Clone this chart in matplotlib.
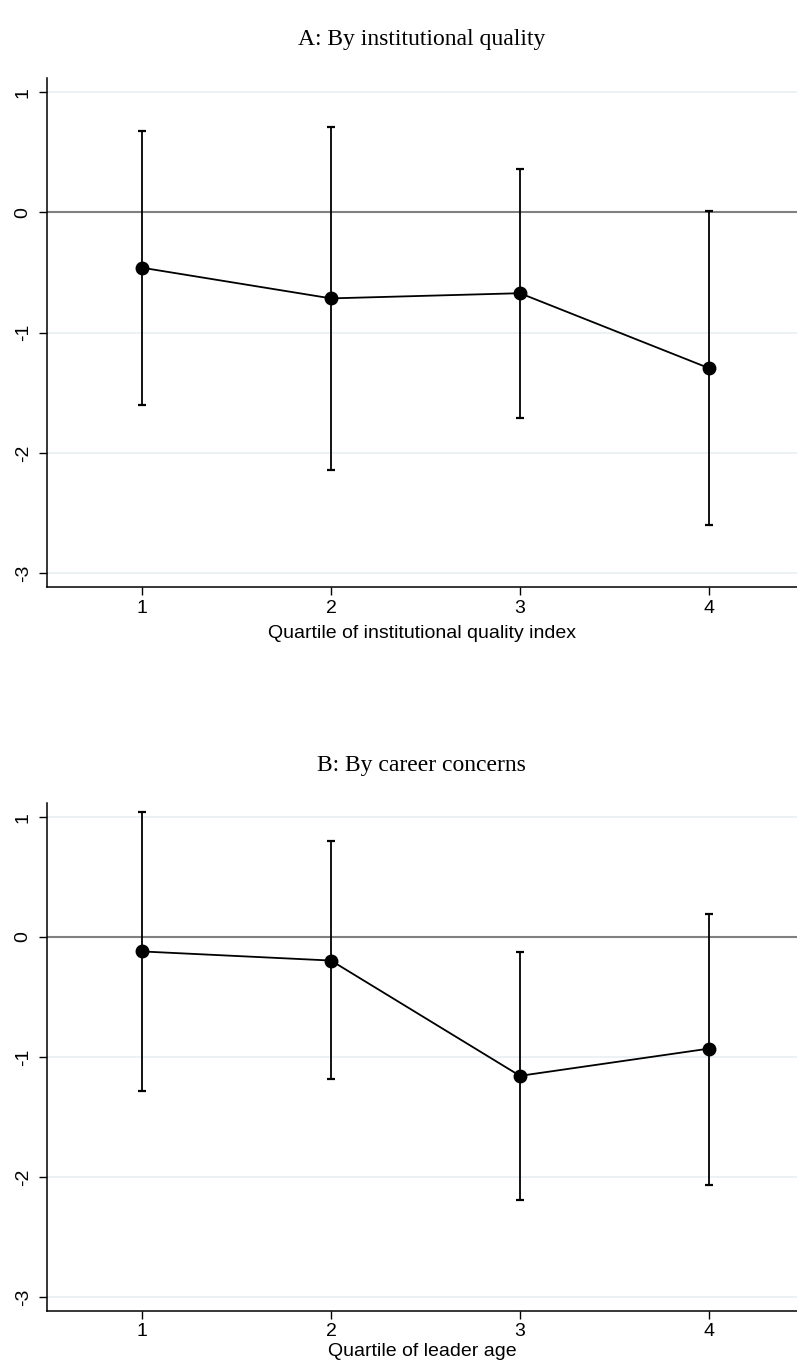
import numpy as np
import matplotlib
matplotlib.use("Agg")
import matplotlib.pyplot as plt

plt.rcParams['font.family'] = ['Liberation Sans', 'DejaVu Sans']

quartiles = [1, 2, 3, 4]

# panel A: institutional quality
inst_coef = [-0.46, -0.715, -0.672, -1.295]
inst_hi = [0.68, 0.706, 0.358, 0.01]
inst_lo = [-1.60, -2.14, -1.71, -2.60]

# panel B: career concerns (leader age)
age_coef = [-0.12, -0.196, -1.157, -0.93]
age_hi = [1.04, 0.798, -0.126, 0.196]
age_lo = [-1.28, -1.18, -2.19, -2.07]

panels = [
    ("A: By institutional quality", "Quartile of institutional quality index",
     inst_coef, inst_lo, inst_hi),
    ("B: By career concerns", "Quartile of leader age",
     age_coef, age_lo, age_hi),
]

fig = plt.figure(figsize=(7.97, 13.69), dpi=100)
boxes = [[0.059, 0.571, 0.941, 0.372], [0.059, 0.0424, 0.941, 0.371]]
title_y = [0.971, 0.441]
label_pad = [6, 2]

for (title, xlab, coef, lo, hi), box, ty, lp in zip(panels, boxes, title_y, label_pad):
    ax = fig.add_axes(box)
    coef = np.array(coef)
    err = [coef - np.array(lo), np.array(hi) - coef]

    for v in [1, -1, -2, -3]:
        ax.axhline(v, color='#e9eff1', lw=1.2, zorder=0)
    ax.axhline(0, color='#808080', lw=1.5, zorder=1)

    ax.errorbar(quartiles, coef, yerr=err, fmt='none', ecolor='black',
                elinewidth=1.3, capsize=3.2, capthick=1.6, zorder=2)
    ax.plot(quartiles, coef, color='black', lw=1.3, marker='o',
            markersize=9, zorder=3)

    ax.set_xlim(0.497, 4.466)
    ax.set_ylim(-3.117, 1.117)
    ax.set_xticks(quartiles)
    ax.set_yticks([-3, -2, -1, 0, 1])
    ax.set_yticklabels(['-3', '-2', '-1', '0', '1'], rotation=90, va='center')
    ax.tick_params(axis='both', length=6, width=1, labelsize=14, color='black')
    ax.tick_params(axis='y', pad=5)
    ax.tick_params(axis='x', pad=3)
    ax.set_xlabel(xlab, fontsize=14, labelpad=lp)

    for s in ['top', 'right']:
        ax.spines[s].set_visible(False)
    for s in ['left', 'bottom']:
        ax.spines[s].set_linewidth(1.1)

    fig.text(0.529, ty, title, ha='center', va='center', fontsize=17,
             family=['Liberation Serif', 'DejaVu Serif'])

fig.savefig('out.png', dpi=100)
